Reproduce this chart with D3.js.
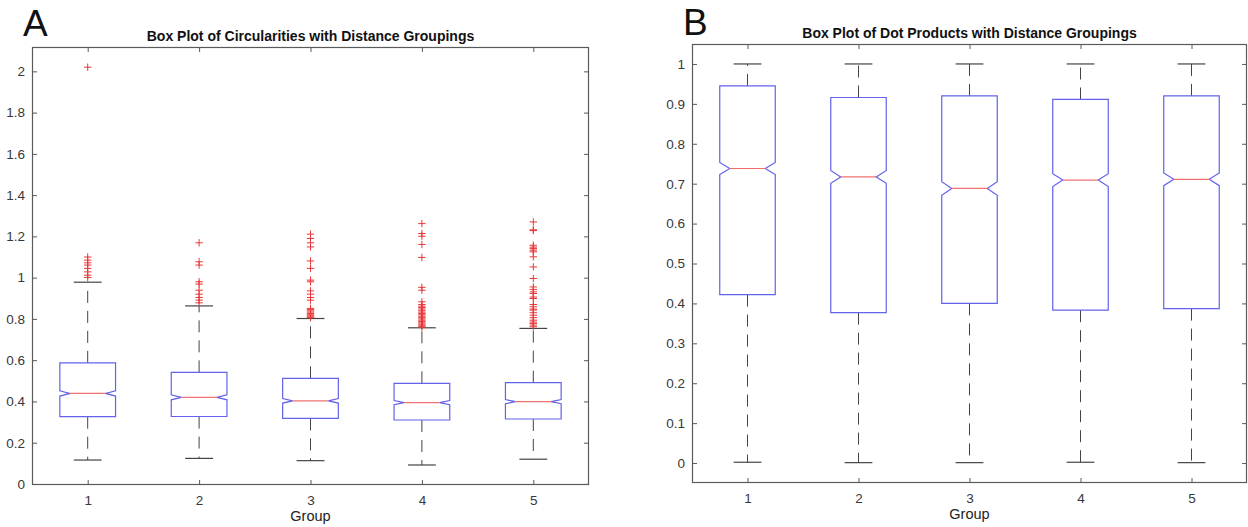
<!DOCTYPE html>
<html>
<head>
<meta charset="utf-8">
<script src="https://cdn.jsdelivr.net/npm/d3@7"></script>
<style>
  body { margin: 0; background: #fff; }
  svg { display: block; font-family: "Liberation Sans", Helvetica, Arial, sans-serif; }
</style>
</head>
<body>
<div id="chart"></div>
<script>
// groups (x categories)
var groups = [1, 2, 3, 4, 5];

// Panel A - circularities
var circLower  = [0.116, 0.124, 0.113, 0.092, 0.120];
var circQ1     = [0.326, 0.327, 0.318, 0.310, 0.315];
var circMedian = [0.439, 0.420, 0.403, 0.394, 0.399];
var circQ3     = [0.587, 0.541, 0.512, 0.488, 0.491];
var circUpper  = [0.978, 0.863, 0.802, 0.757, 0.754];
var circNotch  = [0.013, 0.012, 0.011, 0.010, 0.010];
var circOutliers = [
  [2.02, 1.10, 1.085, 1.072, 1.061, 1.045, 1.028, 1.012, 1.001],
  [1.169, 1.077, 1.061, 0.980, 0.969, 0.939, 0.920, 0.904, 0.891, 0.878],
  [1.211, 1.190, 1.169, 1.149, 1.081, 1.045, 0.988, 0.980, 0.936, 0.920, 0.904, 0.891,
   0.851, 0.845, 0.839, 0.833, 0.826, 0.820, 0.815, 0.810, 0.806],
  [1.262, 1.214, 1.201, 1.161, 1.098, 0.953, 0.939, 0.883, 0.870, 0.862, 0.855, 0.848,
   0.840, 0.833, 0.826, 0.820, 0.813, 0.806, 0.800, 0.794, 0.788, 0.781, 0.775, 0.770, 0.765, 0.761],
  [1.270, 1.232, 1.228, 1.157, 1.148, 1.141, 1.133, 1.125, 1.101, 1.052, 0.996, 0.955,
   0.943, 0.931, 0.923, 0.906, 0.899, 0.870, 0.859, 0.848, 0.843, 0.830, 0.818, 0.806,
   0.794, 0.785, 0.778, 0.770, 0.762]
];
var circTicks = [0, 0.2, 0.4, 0.6, 0.8, 1, 1.2, 1.4, 1.6, 1.8, 2];
var circTickLabels = ["0", "0.2", "0.4", "0.6", "0.8", "1", "1.2", "1.4", "1.6", "1.8", "2"];

// Panel B - dot products
var dotLower  = [0.002, 0.001, 0.001, 0.002, 0.001];
var dotQ1     = [0.422, 0.377, 0.400, 0.383, 0.387];
var dotMedian = [0.738, 0.717, 0.688, 0.709, 0.711];
var dotQ3     = [0.945, 0.916, 0.920, 0.911, 0.920];
var dotUpper  = [1, 1, 1, 1, 1];
var dotNotch  = [0.015, 0.016, 0.017, 0.016, 0.016];
var dotOutliers = [[], [], [], [], []];
var dotTicks = [0, 0.1, 0.2, 0.3, 0.4, 0.5, 0.6, 0.7, 0.8, 0.9, 1];
var dotTickLabels = ["0", "0.1", "0.2", "0.3", "0.4", "0.5", "0.6", "0.7", "0.8", "0.9", "1"];

var groupLabels = ["1", "2", "3", "4", "5"];

var width = 1248, height = 527;

var svg = d3.select("#chart")
            .append("svg")
            .attr("width", width)
            .attr("height", height);

function drawPanel(opt) {
  var xScale = d3.scaleLinear().domain([0.5, 5.5]).range([opt.left, opt.right]);
  var yScale = d3.scaleLinear().domain(opt.yDomain).range([opt.bottom, opt.top]);
  var g = svg.append("g");

  // panel letter
  g.append("text")
   .attr("x", opt.letterX)
   .attr("y", opt.letterY)
   .attr("font-size", 37)
   .attr("fill", "#111")
   .text(opt.letter);

  // title
  g.append("text")
   .attr("x", (opt.left + opt.right) / 2)
   .attr("y", opt.top - 6)
   .attr("text-anchor", "middle")
   .attr("font-size", 14)
   .attr("font-weight", "bold")
   .attr("fill", "#111")
   .text(opt.title);

  // axes
  var ax = g.append("g").attr("transform", "translate(0," + opt.bottom + ")")
    .call(d3.axisBottom(xScale).tickValues(groups).tickFormat(function(d, i) { return groupLabels[i]; })
            .tickSizeInner(-5).tickSizeOuter(0).tickPadding(10));
  var ay = g.append("g").attr("transform", "translate(" + opt.left + ",0)")
    .call(d3.axisLeft(yScale).tickValues(opt.ticks).tickFormat(function(d, i) { return opt.tickLabels[i]; })
            .tickSizeInner(-5).tickSizeOuter(0).tickPadding(7));
  var at = g.append("g").attr("transform", "translate(0," + opt.top + ")")
    .call(d3.axisTop(xScale).tickValues(groups).tickFormat("").tickSizeInner(-5).tickSizeOuter(0));
  var ar = g.append("g").attr("transform", "translate(" + opt.right + ",0)")
    .call(d3.axisRight(yScale).tickValues(opt.ticks).tickFormat("").tickSizeInner(-5).tickSizeOuter(0));
  [ax, ay, at, ar].forEach(function(a) {
    a.select(".domain").remove();
    a.selectAll(".tick line").attr("stroke", "#5a5a5a");
    a.selectAll(".tick text").attr("fill", "#383838").attr("font-size", 13.5)
     .attr("font-family", "Liberation Sans, Helvetica, Arial, sans-serif");
  });

  // frame
  g.append("rect")
   .attr("x", opt.left + 0.5)
   .attr("y", opt.top + 0.5)
   .attr("width", opt.right - opt.left - 1)
   .attr("height", opt.bottom - opt.top - 1)
   .attr("fill", "none")
   .attr("stroke", "#5a5a5a")
   .attr("stroke-width", 1.2);

  // x label
  g.append("text")
   .attr("x", (opt.left + opt.right) / 2)
   .attr("y", opt.bottom + 36)
   .attr("text-anchor", "middle")
   .attr("font-size", 14.5)
   .attr("fill", "#222")
   .text("Group");

  var hw = xScale(1.25) - xScale(1);
  var boxes = groups.map(function(d, i) {
    return {g: d, lo: opt.lower[i], q1: opt.q1[i], med: opt.median[i], q3: opt.q3[i],
            hi: opt.upper[i], notch: opt.notch[i], out: opt.outliers[i]};
  });

  var bg = g.selectAll(".box").data(boxes).enter().append("g").attr("class", "box");

  // whiskers
  bg.append("line")
    .attr("x1", function(d) { return xScale(d.g); })
    .attr("x2", function(d) { return xScale(d.g); })
    .attr("y1", function(d) { return yScale(d.q3); })
    .attr("y2", function(d) { return yScale(d.hi); })
    .attr("stroke", "#444").attr("stroke-dasharray", "12,8");
  bg.append("line")
    .attr("x1", function(d) { return xScale(d.g); })
    .attr("x2", function(d) { return xScale(d.g); })
    .attr("y1", function(d) { return yScale(d.q1); })
    .attr("y2", function(d) { return yScale(d.lo); })
    .attr("stroke", "#444").attr("stroke-dasharray", "12,8");
  // caps
  ["hi", "lo"].forEach(function(k) {
    bg.append("line")
      .attr("x1", function(d) { return xScale(d.g) - hw / 2; })
      .attr("x2", function(d) { return xScale(d.g) + hw / 2; })
      .attr("y1", function(d) { return yScale(d[k]); })
      .attr("y2", function(d) { return yScale(d[k]); })
      .attr("stroke", "#444").attr("stroke-width", 1.2);
  });

  // notched box
  bg.append("path")
    .attr("fill", "none")
    .attr("stroke", "#6262ea")
    .attr("stroke-width", 1.2)
    .attr("d", function(d) {
      var c = xScale(d.g), x0 = c - hw, x1 = c + hw, inner = hw * 0.64;
      var p = d3.path();
      p.moveTo(x0, yScale(d.q3));
      p.lineTo(x1, yScale(d.q3));
      p.lineTo(x1, yScale(d.med + d.notch));
      p.lineTo(c + inner, yScale(d.med));
      p.lineTo(x1, yScale(d.med - d.notch));
      p.lineTo(x1, yScale(d.q1));
      p.lineTo(x0, yScale(d.q1));
      p.lineTo(x0, yScale(d.med - d.notch));
      p.lineTo(c - inner, yScale(d.med));
      p.lineTo(x0, yScale(d.med + d.notch));
      p.closePath();
      return p.toString();
    });

  // median
  bg.append("line")
    .attr("x1", function(d) { return xScale(d.g) - hw * 0.64; })
    .attr("x2", function(d) { return xScale(d.g) + hw * 0.64; })
    .attr("y1", function(d) { return yScale(d.med); })
    .attr("y2", function(d) { return yScale(d.med); })
    .attr("stroke", "#f07070").attr("stroke-width", 1.2);

  // outliers
  bg.selectAll(".out")
    .data(function(d) { return d.out.map(function(v) { return {g: d.g, v: v}; }); })
    .enter().append("path")
    .attr("class", "out")
    .attr("fill", "none")
    .attr("stroke", "#e8383a")
    .attr("stroke-width", 1)
    .attr("d", function(d) {
      var cx = xScale(d.g), cy = yScale(d.v), r = 3.7;
      return "M" + (cx - r) + "," + cy + "H" + (cx + r) + "M" + cx + "," + (cy - r) + "V" + (cy + r);
    });
}

drawPanel({
  letter: "A", letterX: 23, letterY: 36,
  title: "Box Plot of Circularities with Distance Groupings",
  left: 32, right: 589, top: 47, bottom: 485,
  yDomain: [-0.005, 2.118],
  ticks: circTicks, tickLabels: circTickLabels,
  lower: circLower, q1: circQ1, median: circMedian, q3: circQ3, upper: circUpper,
  notch: circNotch, outliers: circOutliers
});

drawPanel({
  letter: "B", letterX: 683, letterY: 35,
  title: "Box Plot of Dot Products with Distance Groupings",
  left: 692, right: 1247, top: 44, bottom: 483,
  yDomain: [-0.05, 1.05],
  ticks: dotTicks, tickLabels: dotTickLabels,
  lower: dotLower, q1: dotQ1, median: dotMedian, q3: dotQ3, upper: dotUpper,
  notch: dotNotch, outliers: dotOutliers
});
</script>
</body>
</html>
